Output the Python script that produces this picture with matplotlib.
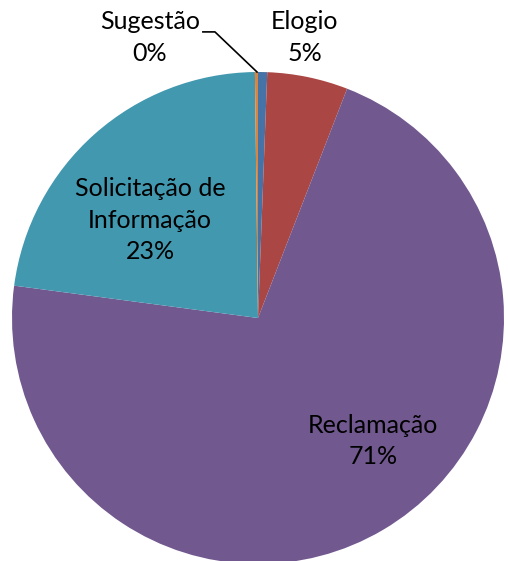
import matplotlib.pyplot as plt

# Dados (sentido horário a partir das 12h)
categorias = ['Outros', 'Elogio', 'Reclamação', 'Solicitação de\nInformação', 'Sugestão']
valores = [0.6, 5.3, 71.2, 22.7, 0.2]
cores = ['#4572A7', '#AA4643', '#71588F', '#4198AF', '#DB843D']

plt.rcParams['font.family'] = ['Lato', 'DejaVu Sans']

fig = plt.figure(figsize=(5.08, 5.61), dpi=100)
W, H = 508, 561
cx, cy, r = 258, 318, 246
ax = fig.add_axes([(cx - r) / W, (H - cy - r) / H, 2 * r / W, 2 * r / H])

ax.pie(valores, colors=cores, startangle=90, counterclock=False,
       radius=1, wedgeprops=dict(linewidth=0))
ax.set_xlim(-1, 1)
ax.set_ylim(-1, 1)
ax.set_aspect('equal')
ax.axis('off')

total = sum(valores)
pct = [round(v / total * 100) for v in valores]

# posições dos rótulos (coordenadas de dados)
pos = {1: (0.191, 1.14), 2: (0.467, -0.50), 3: (-0.439, 0.398), 4: (-0.439, 1.14)}
for i, (x, y) in pos.items():
    ax.text(x, y, f'{categorias[i]}\n{pct[i]}%', ha='center', va='center',
            fontsize=18, color='black', linespacing=1.45, clip_on=False)

# linha de chamada da Sugestão
ax.plot([-0.224, -0.175, -0.004], [1.163, 1.163, 1.0], color='black',
        linewidth=1.2, clip_on=False)

fig.savefig('out.png', dpi=100)
